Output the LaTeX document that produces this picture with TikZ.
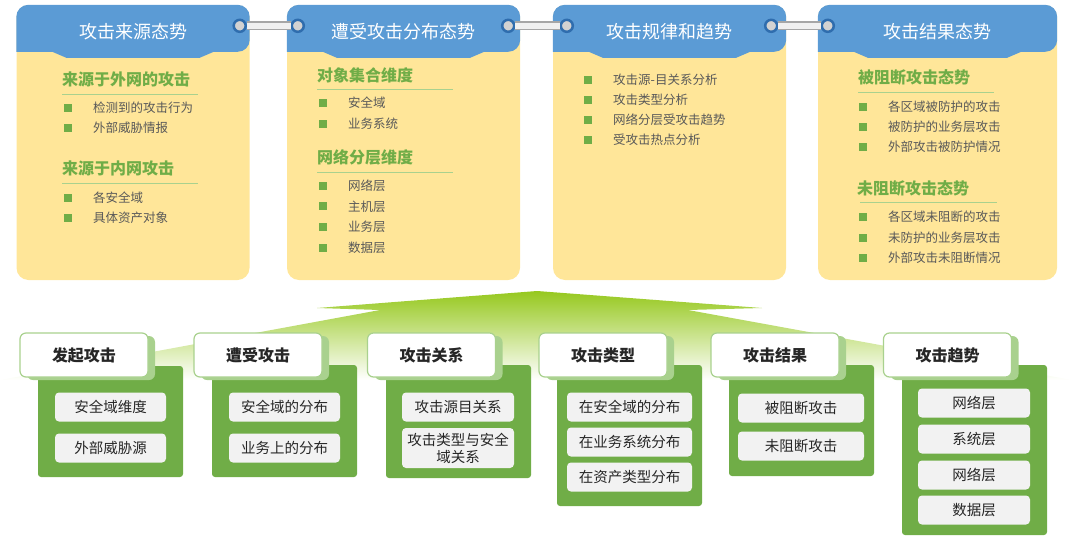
\documentclass[tikz,border=0pt]{standalone}
\usepackage{fontspec}
\setmainfont{Noto Sans CJK SC}
\usetikzlibrary{positioning, shadows}
\definecolor{HeadBlue}{HTML}{5B9BD5}
\definecolor{RingBlue}{HTML}{2F6DAE}
\definecolor{PaperYellow}{HTML}{FFE699}
\definecolor{LeafGreen}{HTML}{70AD47}
\definecolor{PaleGreen}{HTML}{A9D18E}
\definecolor{FanGreen}{HTML}{96C81E}
\definecolor{ChipGrey}{HTML}{F2F2F2}
\definecolor{TextGrey}{HTML}{595959}
\definecolor{TextDark}{HTML}{262626}
\definecolor{TubeGrey}{HTML}{A6A6A6}

\begin{document}
\begin{tikzpicture}[
        x=1pt, y=-1pt,
        panel/.style={rectangle, fill=PaperYellow, rounded corners=12pt, minimum width=233pt, minimum height=275pt, inner sep=0pt},
        ttl/.style={font=\fontsize{18}{20}\selectfont, text=white},
        subh/.style={anchor=west, inner sep=0pt, font=\fontsize{16}{18}\selectfont\bfseries, text=LeafGreen},
        itm/.style={anchor=west, inner sep=0pt, font=\fontsize{12.5}{14}\selectfont, text=TextGrey},
        sq/.style={rectangle, fill=LeafGreen, minimum size=8pt, inner sep=0pt},
        uline/.style={PaleGreen, line width=1pt},
        ring/.style={circle, fill=gray!35, draw=RingBlue, line width=2.5pt, minimum size=12pt, inner sep=0pt},
        tube/.style={draw=TubeGrey, line width=1.6pt, double=gray!12, double distance=5.5pt},
        tab/.style={rectangle, fill=white, draw=PaleGreen, line width=1.2pt, rounded corners=6pt, minimum width=128pt, minimum height=44pt, font=\fontsize{16}{18}\selectfont\bfseries, text=TextDark, general shadow={fill=PaleGreen, shadow xshift=7pt, shadow yshift=-3pt}},
        leaf/.style={rectangle, fill=LeafGreen, rounded corners=3pt, minimum width=145pt, inner sep=0pt},
        chip/.style={rectangle, fill=ChipGrey, rounded corners=4pt, minimum height=29pt, inner sep=1pt, align=center, font=\fontsize{14.5}{17}\selectfont, text=TextDark}
      ]
        \useasboundingbox (0,0) rectangle (1080,536);

        \node[panel] (p1) at (133,142.5) {};
        \node[panel] (p2) at (403.5,142.5) {};
        \node[panel] (p3) at (669.5,142.5) {};
        \node[panel, minimum width=239pt] (p4) at (937.5,142.5) {};
        \foreach \p in {p1,p2,p3,p4}
          \fill[HeadBlue, rounded corners=12pt] ([yshift=-47pt]\p.north west) -- (\p.north west) -- (\p.north east) -- ([yshift=-47pt]\p.north east) [sharp corners] -- ([xshift=-36pt,yshift=-47pt]\p.north east) -- ([xshift=-50pt,yshift=-53pt]\p.north east) -- ([xshift=50pt,yshift=-53pt]\p.north west) -- ([xshift=36pt,yshift=-47pt]\p.north west) -- cycle;

        \node[ttl] (t1) at ([yshift=-27pt]p1.north) {攻击来源态势};
        \node[ttl] (t2) at ([yshift=-27pt]p2.north) {遭受攻击分布态势};
        \node[ttl] (t3) at ([yshift=-27pt]p3.north) {攻击规律和趋势};
        \node[ttl] (t4) at ([yshift=-27pt]p4.north) {攻击结果态势};

        \node[ring] (k1e) at ([xshift=-10pt,yshift=-21pt]p1.north east) {};
        \node[ring] (k2w) at ([xshift=11pt,yshift=-21pt]p2.north west) {};
        \node[ring] (k2e) at ([xshift=-12pt,yshift=-21pt]p2.north east) {};
        \node[ring] (k3w) at ([xshift=14pt,yshift=-21pt]p3.north west) {};
        \node[ring] (k3e) at ([xshift=-15pt,yshift=-21pt]p3.north east) {};
        \node[ring] (k4w) at ([xshift=10pt,yshift=-21pt]p4.north west) {};
        \draw[tube] (k1e) -- (k2w);
        \draw[tube] (k2e) -- (k3w);
        \draw[tube] (k3e) -- (k4w);

        \node[subh] (h1a) at (62,79) {来源于外网的攻击};
        \draw[uline] (62,94) -- (198,94);
        \foreach \txt [count=\n] in {检测到的攻击行为, 外部威胁情报} {
          \node[sq] (s1a\n) at (68,88+20*\n) {};
          \node[itm] (i1a\n) at (93,88+20*\n) {\txt};
        }
        \node[subh] (h1b) at (62,168) {来源于内网攻击};
        \draw[uline] (62,183) -- (198,183);
        \foreach \txt [count=\n] in {各安全域, 具体资产对象} {
          \node[sq] (s1b\n) at (68,178+20*\n) {};
          \node[itm] (i1b\n) at (93,178+20*\n) {\txt};
        }

        \node[subh] (h2a) at (317,75) {对象集合维度};
        \draw[uline] (317,89) -- (453,89);
        \foreach \txt [count=\n] in {安全域, 业务系统} {
          \node[sq] (s2a\n) at (323,82+21*\n) {};
          \node[itm] (i2a\n) at (348,82+21*\n) {\txt};
        }
        \node[subh] (h2b) at (317,157) {网络分层维度};
        \draw[uline] (317,172) -- (453,172);
        \foreach \txt [count=\n] in {网络层, 主机层, 业务层, 数据层} {
          \node[sq] (s2b\n) at (323,165+20.7*\n) {};
          \node[itm] (i2b\n) at (348,165+20.7*\n) {\txt};
        }

        \foreach \txt [count=\n] in {攻击源-目关系分析, 攻击类型分析, 网络分层受攻击趋势, 受攻击热点分析} {
          \node[sq] (s3\n) at (588,60+20*\n) {};
          \node[itm] (i3\n) at (613,60+20*\n) {\txt};
        }

        \node[subh] (h4a) at (858,77) {被阻断攻击态势};
        \draw[uline] (858,92) -- (994,92);
        \foreach \txt [count=\n] in {各区域被防护的攻击, 被防护的业务层攻击, 外部攻击被防护情况} {
          \node[sq] (s4a\n) at (863,87+20*\n) {};
          \node[itm] (i4a\n) at (888,87+20*\n) {\txt};
        }
        \node[subh] (h4b) at (857,188) {未阻断攻击态势};
        \draw[uline] (860,202) -- (997,202);
        \foreach \txt [count=\n] in {各区域未阻断的攻击, 未防护的业务层攻击, 外部攻击未阻断情况} {
          \node[sq] (s4b\n) at (863,196.5+20.5*\n) {};
          \node[itm] (i4b\n) at (888,196.5+20.5*\n) {\txt};
        }

        \shade[top color=FanGreen, middle color=FanGreen!35, bottom color=white] (537,291) -- (762,308) -- (688,310) -- (1072,380) -- (0,380) -- (380,310) -- (317,308) -- cycle;

        \node[leaf, minimum height=111pt] (g1) at (110.5,421.5) {};
        \node[tab] (c1) at (84,355) {发起攻击};
        \node[chip, minimum width=111pt] (c1a) at (110.5,407) {安全域维度};
        \node[chip, minimum width=111pt] (c1b) at (110.5,448) {外部威胁源};

        \node[leaf, minimum height=112pt] (g2) at (284.5,421) {};
        \node[tab] (c2) at (258,355) {遭受攻击};
        \node[chip, minimum width=111pt] (c2a) at (284.5,407) {安全域的分布};
        \node[chip, minimum width=111pt] (c2b) at (284.5,448) {业务上的分布};

        \node[leaf, minimum height=113pt] (g3) at (458.5,421.5) {};
        \node[tab] (c3) at (431.5,355) {攻击关系};
        \node[chip, minimum width=112pt] (c3a) at (458,407) {攻击源目关系};
        \node[chip, minimum width=112pt, minimum height=40pt] (c3b) at (458,448) {攻击类型与安全\\域关系};

        \node[leaf, minimum height=141pt] (g4) at (629.5,435.5) {};
        \node[tab] (c4) at (603,355) {攻击类型};
        \node[chip, minimum width=125pt] (c4a) at (629.5,407) {在安全域的分布};
        \node[chip, minimum width=125pt] (c4b) at (629.5,442) {在业务系统分布};
        \node[chip, minimum width=125pt] (c4c) at (629.5,477) {在资产类型分布};

        \node[leaf, minimum height=111pt] (g5) at (801.5,420.5) {};
        \node[tab] (c5) at (775,355) {攻击结果};
        \node[chip, minimum width=126pt] (c5a) at (801,408) {被阻断攻击};
        \node[chip, minimum width=126pt] (c5b) at (801,446) {未阻断攻击};

        \node[leaf, minimum height=170pt] (g6) at (974.5,450) {};
        \node[tab] (c6) at (947.5,355) {攻击趋势};
        \node[chip, minimum width=112pt] (c6a) at (974,403) {网络层};
        \node[chip, minimum width=112pt] (c6b) at (974,439) {系统层};
        \node[chip, minimum width=112pt] (c6c) at (974,475) {网络层};
        \node[chip, minimum width=112pt] (c6d) at (974,510) {数据层};
      \end{tikzpicture}
\end{document}
